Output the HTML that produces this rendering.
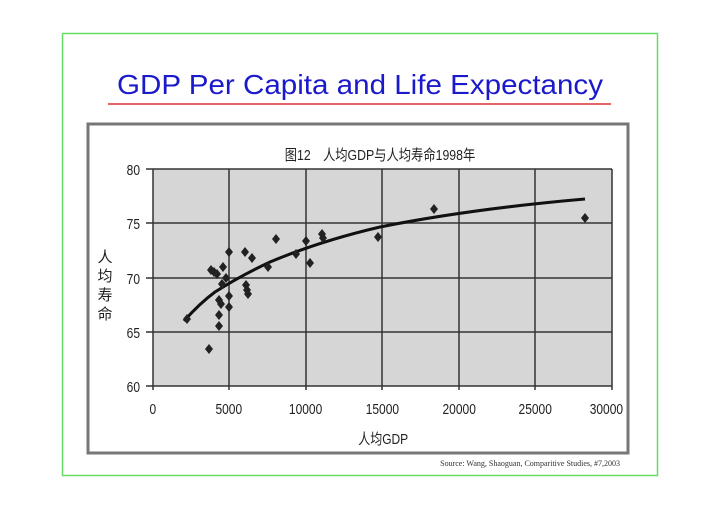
<!DOCTYPE html>
<html><head><meta charset="utf-8"><style>
html,body{margin:0;padding:0;background:#fff;}
body{width:720px;height:509px;overflow:hidden;position:relative;font-family:"Liberation Sans","Noto Sans CJK SC",sans-serif;}
</style></head><body>
<svg width="720" height="509" xmlns="http://www.w3.org/2000/svg" style="position:absolute;left:0;top:0">
<rect x="62.5" y="33.5" width="595" height="442" fill="#fff" stroke="#66dd66" stroke-width="1.5"/>
<text x="360" y="94" text-anchor="middle" font-size="28" textLength="486" lengthAdjust="spacingAndGlyphs" fill="#1a1acc" font-family="Liberation Sans, sans-serif">GDP Per Capita and Life Expectancy</text>
<line x1="108" y1="104" x2="611" y2="104" stroke="#e03030" stroke-width="1.5"/>
<rect x="88" y="124" width="540" height="329" fill="#fff" stroke="#777" stroke-width="3"/>
<text x="380" y="160" text-anchor="middle" font-size="15" fill="#222" font-family="Liberation Sans, Noto Sans CJK SC, sans-serif" transform="translate(380 0) scale(0.82 1) translate(-380 0)">图12　人均GDP与人均寿命1998年</text>
<rect x="153" y="169" width="459" height="217" fill="#d6d6d6"/>
<g stroke="#333" stroke-width="1.5">
<line x1="146" y1="169" x2="612" y2="169"/><line x1="146" y1="223" x2="612" y2="223"/><line x1="146" y1="278" x2="612" y2="278"/><line x1="146" y1="332" x2="612" y2="332"/><line x1="146" y1="386" x2="612" y2="386"/>
<line x1="153" y1="169" x2="153" y2="390"/><line x1="229" y1="169" x2="229" y2="390"/><line x1="306" y1="169" x2="306" y2="390"/><line x1="382" y1="169" x2="382" y2="390"/><line x1="459" y1="169" x2="459" y2="390"/><line x1="535" y1="169" x2="535" y2="390"/><line x1="612" y1="169" x2="612" y2="390"/>
</g>
<g font-size="15" fill="#222" text-anchor="end" font-family="Liberation Sans, sans-serif" transform="scale(0.8 1)">
<text x="175" y="175">80</text><text x="175" y="229">75</text><text x="175" y="284">70</text><text x="175" y="338">65</text><text x="175" y="392">60</text>
</g>
<g font-size="15" fill="#222" text-anchor="middle" font-family="Liberation Sans, sans-serif" transform="scale(0.8 1)">
<text x="191" y="414">0</text><text x="286" y="414">5000</text><text x="382" y="414">10000</text><text x="478" y="414">15000</text><text x="574" y="414">20000</text><text x="669" y="414">25000</text><text x="758" y="414">30000</text>
</g>
<text x="479" y="444" text-anchor="middle" font-size="15" fill="#222" font-family="Liberation Sans, Noto Sans CJK SC, sans-serif" transform="scale(0.8 1)">人均GDP</text>
<g font-size="15" fill="#222" text-anchor="middle" font-family="Noto Sans CJK SC, sans-serif">
<text x="105" y="262">人</text><text x="105" y="281">均</text><text x="105" y="300">寿</text><text x="105" y="319">命</text>
</g>
<path d="M184,321 Q200,303 215,292 Q240,276 270,262 Q320,241 380,227 Q470,209 585,199" fill="none" stroke="#111" stroke-width="3"/>
<g fill="#222">
<defs><path id="d" d="M0,-5 L4,0 L0,5 L-4,0Z"/></defs>
<use href="#d" x="187" y="319"/><use href="#d" x="209" y="349"/><use href="#d" x="211" y="270"/><use href="#d" x="214" y="272"/><use href="#d" x="217" y="274"/><use href="#d" x="219" y="300"/><use href="#d" x="219" y="315"/><use href="#d" x="219" y="326"/><use href="#d" x="221" y="304"/><use href="#d" x="222" y="284"/><use href="#d" x="223" y="267"/><use href="#d" x="226" y="278"/><use href="#d" x="229" y="252"/><use href="#d" x="229" y="296"/><use href="#d" x="229" y="307"/><use href="#d" x="245" y="252"/><use href="#d" x="246" y="285"/><use href="#d" x="247" y="290"/><use href="#d" x="248" y="294"/><use href="#d" x="252" y="258"/><use href="#d" x="268" y="267"/><use href="#d" x="276" y="239"/><use href="#d" x="296" y="254"/><use href="#d" x="306" y="241"/><use href="#d" x="310" y="263"/><use href="#d" x="322" y="234"/><use href="#d" x="323" y="238"/><use href="#d" x="378" y="237"/><use href="#d" x="434" y="209"/><use href="#d" x="585" y="218"/>
</g>
<text x="620" y="466" text-anchor="end" font-size="8" fill="#333" font-family="Liberation Serif, serif">Source: Wang, Shaoguan, Comparitive Studies, #7,2003</text>
</svg>
</body></html>
